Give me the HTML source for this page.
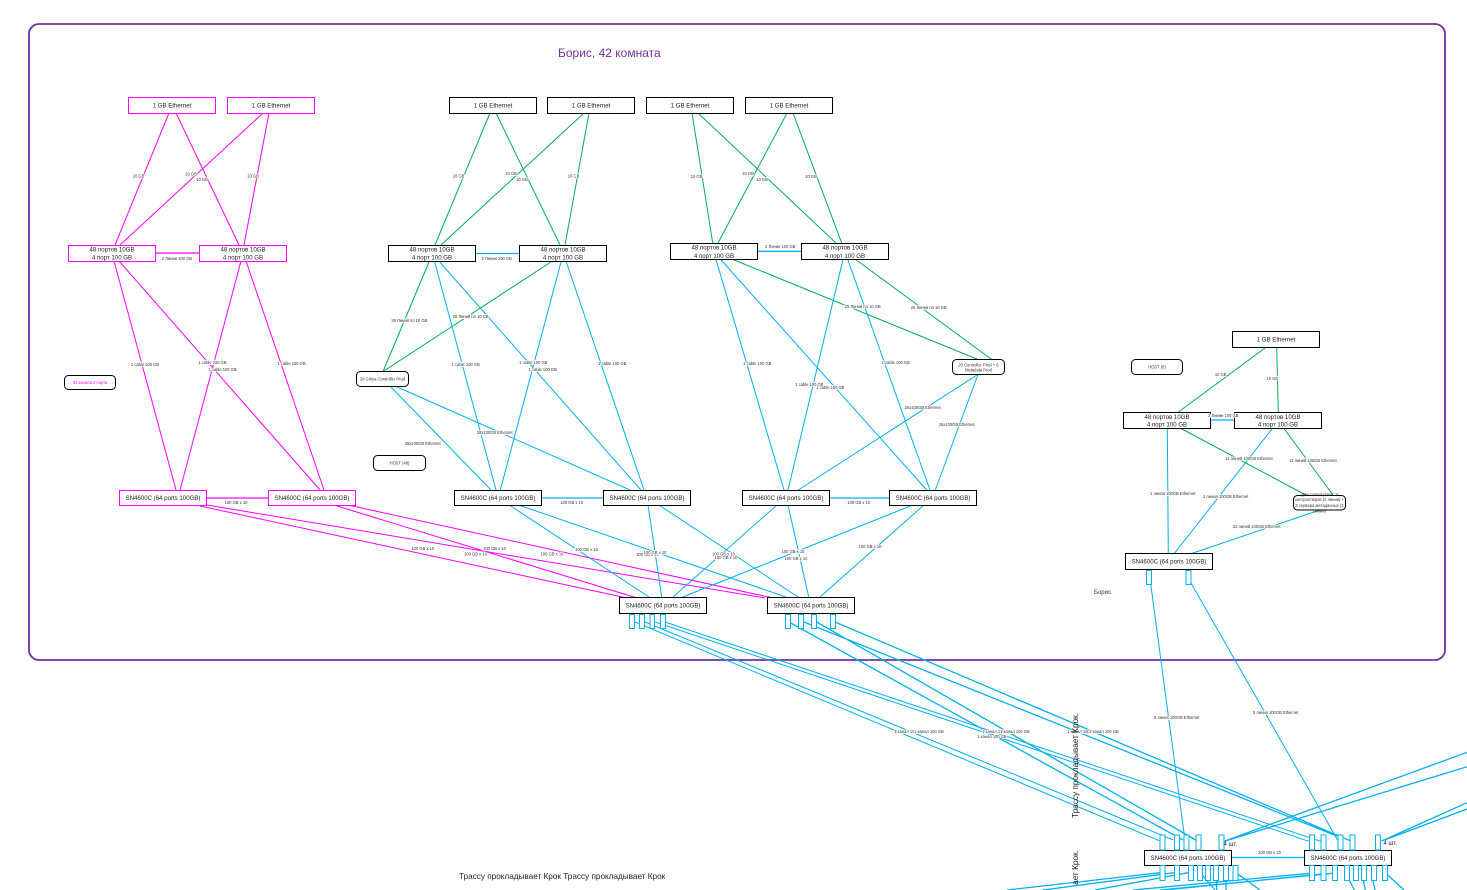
<!DOCTYPE html>
<html lang="ru">
<head>
<meta charset="utf-8">
<title>Борис, 42 комната</title>
<style>
html,body{margin:0;padding:0;background:#fff;width:1467px;height:890px;overflow:hidden}
svg{display:block;font-family:"Liberation Sans","Noto Sans CJK SC",sans-serif}
.ln{fill:none;stroke-width:1}
.lk{fill:none;stroke-width:1.3}
.m{stroke:#ff00ff}
.g{stroke:#00b050}
.c{stroke:#00b0f0}
.bm{fill:#fff;stroke:#ff00ff;stroke-width:1}
.bk{fill:#fff;stroke:#000;stroke-width:1}
.p{fill:#fff;stroke:#00b0f0;stroke-width:1}
.t{font-size:6.1px;fill:#222;text-anchor:middle}
.l{font-size:4.1px;fill:#333;text-anchor:middle;paint-order:stroke;stroke:#fff;stroke-width:1.6px}
.s{font-size:4.1px;fill:#333;text-anchor:middle}
</style>
</head>
<body>
<svg width="1467" height="890" viewBox="0 0 1467 890" xmlns="http://www.w3.org/2000/svg">
<rect x="29" y="24" width="1416" height="636" rx="10" ry="10" fill="#fff" stroke="#7030a0" stroke-width="1.8"/>
<text x="558" y="57" font-size="12" fill="#7030a0">Борис, 42 комната</text>

<!-- magenta connectors -->
<path class="ln m" d="M169 113L115 245M176 113L239 245M263 113L120 245M269 113L244 245M114 261L176 490M119 261L320 490M241 261L180 490M246 261L324 490M200 506L627 598M207 505L765 598M337 506L637 598M348 505L773 598"/>
<path class="lk m" d="M155 253H199M206 498H268"/>

<!-- green connectors -->
<path class="ln g" d="M490 113L435 245M496 113L560 245M584 113L441 245M589 113L565 245M429 262L383 371.500M551 262L383 371.500M692 113L712.700 243M698 113L836 243M787 113L718 243M793 113L841.700 243M733 259.500L978 359.500M855.700 259.500L991.700 359.500M1265.700 347.500L1177.700 412.500M1276.700 347.500L1278.300 412.500M1181 428.500L1306.700 495.500M1284 428.500L1333.300 495.500"/>

<!-- cyan connectors -->
<path class="ln c" d="M434.700 262L496 490M439.700 262L641 490M561 262L500.300 490M566.300 262L644 490M390 386L491 490M395 386L630 490M510 505.500L649 597M520 505.500L786 597M648 505L661.700 597M659 505L798 597M777 505L673 597M788 505L808.700 597M913 505L682.700 597M924 505L820 597M716 259.500L784 490M720.700 259.500L926.700 490M843 259.500L788 490M847.700 259.500L930 490M977.700 374.500L798.300 490M978 374.500L935.300 490M1167.300 428.500L1168.300 553.500M1272.300 428.500L1174.300 553.500M1320 510L1191.700 553.500M1150.700 584L1184.300 835M1191 583L1342.700 849M635 622L1159.300 840.700M645 622L1173.300 840M655 622L1310 841.700M665 622L1321.700 841.700"/>
<path class="lk c" d="M475 253.500H519M541 498H603M757 251.300H801M829 498H889M1210 420H1234M1231.500 857.500H1304.500"/>
<path class="lk c" d="M790.700 623L1183 840M816.700 622L1195.700 840M804 622L1336.700 836M835 622L1350 840.700M1223 841.700L1467 752.300M1223 841.700L1467 766.700M1381.700 841L1467 802.700M1381.700 841L1467 809M1160 872.700L1007 890M1174 872.700L1043 890M1188.300 872.700L1095 890M1310 873.300L1133 890M1321.700 874L1165 890M1332.700 873.300L1160 890M1203 876L1215 890M1216.700 880V890M1226 880V890M1238.300 874.300L1260 890M1349.300 880L1354.300 890M1363.300 880L1365.300 890M1372.700 880L1375 890M1387.700 875L1404 890"/>

<!-- connector labels -->
<g>
<text class="l" x="138.500" y="177.500">10 GB</text><text class="l" x="191" y="175.500">10 GB</text><text class="l" x="202" y="181">10 GB</text><text class="l" x="253" y="177.500">10 GB</text>
<text class="l" x="177" y="260">2 Линии 100 GB</text>
<text class="l" x="145" y="366">1 cable 100 GB</text><text class="l" x="212.500" y="364">1 cable 100 GB</text><text class="l" x="222.500" y="371">1 cable 100 GB</text><text class="l" x="291.500" y="365">1 cable 100 GB</text>
<text class="l" x="236" y="504">100 GB x 10</text>
<text class="l" x="422.700" y="550">100 GB x 10</text><text class="l" x="494.500" y="550">100 GB x 10</text><text class="l" x="475.500" y="555.500">100 GB x 10</text><text class="l" x="552" y="555.500">100 GB x 10</text><text class="l" x="586.500" y="551">100 GB x 10</text><text class="l" x="647.500" y="556">100 GB x 10</text><text class="l" x="655" y="554">100 GB x 10</text><text class="l" x="723.500" y="555.500">100 GB x 10</text><text class="l" x="726" y="559">100 GB x 10</text><text class="l" x="793" y="553">100 GB x 10</text><text class="l" x="796" y="560">100 GB x 10</text><text class="l" x="870" y="548">100 GB x 10</text>

<text class="l" x="458.500" y="177.500">10 GB</text><text class="l" x="511" y="175">10 GB</text><text class="l" x="522" y="181">10 GB</text><text class="l" x="573.500" y="177.500">10 GB</text>
<text class="l" x="496.700" y="260">2 Линии 100 GB</text>
<text class="l" x="409.300" y="322">28 Линий по 10 GB</text><text class="l" x="470.700" y="318">28 Линий по 10 GB</text>
<text class="l" x="465.700" y="366">1 cable 100 GB</text><text class="l" x="533.300" y="364">1 cable 100 GB</text><text class="l" x="542.700" y="371">1 cable 100 GB</text><text class="l" x="612.300" y="365">1 cable 100 GB</text>
<text class="l" x="494.700" y="434">28x100GB Ethernet</text><text class="l" x="422.700" y="445">28x100GB Ethernet</text>
<text class="l" x="571.700" y="504">100 GB x 10</text>

<text class="l" x="696.500" y="178">10 GB</text><text class="l" x="748" y="175">10 GB</text><text class="l" x="762" y="181">10 GB</text><text class="l" x="811" y="178">10 GB</text>
<text class="l" x="780.300" y="248">2 Линии 100 GB</text>
<text class="l" x="862.700" y="308">25 Линии по 10 GB</text><text class="l" x="928.700" y="309">25 Линии по 10 GB</text>
<text class="l" x="757.300" y="365">1 cable 100 GB</text><text class="l" x="809.300" y="386">1 cable 100 GB</text><text class="l" x="830.300" y="389">1 cable 100 GB</text><text class="l" x="895.700" y="364">1 cable 100 GB</text>
<text class="l" x="922.700" y="409">26x100GB Ethernet</text><text class="l" x="956.700" y="426">26x100GB Ethernet</text>
<text class="l" x="858.700" y="504">100 GB x 10</text>

<text class="l" x="1220.700" y="376">10 GB</text><text class="l" x="1272.300" y="380">10 GB</text>
<text class="l" x="1249" y="460">11 линий 100GB Ethernet</text><text class="l" x="1313" y="462">11 линий 100GB Ethernet</text>
<text class="l" x="1172.700" y="495">1 линия 100GB Ethernet</text><text class="l" x="1225.700" y="498">1 линия 100GB Ethernet</text>
<text class="l" x="1256.700" y="528">22 линий 100GB Ethernet</text>
<text class="l" x="1176.700" y="719">5 линия 100GB Ethernet</text><text class="l" x="1275.700" y="714">5 линия 100GB Ethernet</text>

<text class="l" x="909" y="733">1 канал 100 GB</text><text class="l" x="929" y="733">1 канал 100 GB</text>
<text class="l" x="997" y="733">1 канал 100 GB</text><text class="l" x="1015" y="733">1 канал 100 GB</text><text class="l" x="992" y="738">1 канал 100 GB</text>
<text class="l" x="1082" y="733">1 канал 100 GB</text><text class="l" x="1104" y="733">1 канал 100 GB</text>
<text class="s" x="1269.500" y="854">100 GB x 20</text>
</g>

<!-- magenta boxes -->
<g>
<rect class="bm" x="128.500" y="97.500" width="87" height="16"/><text class="t" x="172" y="107.700">1 GB Ethernet</text>
<rect class="bm" x="227.500" y="97.500" width="87" height="16"/><text class="t" x="271" y="107.700">1 GB Ethernet</text>
<rect class="bm" x="68.500" y="245.500" width="87" height="16"/><text class="t" x="112" y="251.500">48 портов 10GB</text><text class="t" x="112" y="259.300">4 порт 100 GB</text>
<rect class="bm" x="199.500" y="245.500" width="87" height="16"/><text class="t" x="243" y="251.500">48 портов 10GB</text><text class="t" x="243" y="259.300">4 порт 100 GB</text>
<rect class="bm" x="119.500" y="490.500" width="87" height="15"/><text class="t" x="163" y="500.200">SN4600C (64 ports 100GB)</text>
<rect class="bm" x="268.500" y="490.500" width="87" height="15"/><text class="t" x="312" y="500.200">SN4600C (64 ports 100GB)</text>
</g>

<!-- black boxes -->
<g>
<rect class="bk" x="449.500" y="97.500" width="87" height="16"/><text class="t" x="493" y="107.700">1 GB Ethernet</text>
<rect class="bk" x="547.500" y="97.500" width="87" height="16"/><text class="t" x="591" y="107.700">1 GB Ethernet</text>
<rect class="bk" x="646.500" y="97.500" width="87" height="16"/><text class="t" x="690" y="107.700">1 GB Ethernet</text>
<rect class="bk" x="745.500" y="97.500" width="87" height="16"/><text class="t" x="789" y="107.700">1 GB Ethernet</text>
<rect class="bk" x="388.500" y="245.500" width="87" height="16"/><text class="t" x="432" y="251.500">48 портов 10GB</text><text class="t" x="432" y="259.300">4 порт 100 GB</text>
<rect class="bk" x="519.500" y="245.500" width="87" height="16"/><text class="t" x="563" y="251.500">48 портов 10GB</text><text class="t" x="563" y="259.300">4 порт 100 GB</text>
<rect class="bk" x="670.500" y="243.500" width="87" height="16"/><text class="t" x="714" y="249.500">48 портов 10GB</text><text class="t" x="714" y="258">4 порт 100 GB</text>
<rect class="bk" x="801.500" y="243.500" width="87" height="16"/><text class="t" x="845" y="249.500">48 портов 10GB</text><text class="t" x="845" y="258">4 порт 100 GB</text>
<rect class="bk" x="454.500" y="490.500" width="87" height="15"/><text class="t" x="498" y="500.200">SN4600C (64 ports 100GB)</text>
<rect class="bk" x="603.500" y="490.500" width="87" height="15"/><text class="t" x="647" y="500.200">SN4600C (64 ports 100GB)</text>
<rect class="bk" x="742.500" y="490.500" width="87" height="15"/><text class="t" x="786" y="500.200">SN4600C (64 ports 100GB)</text>
<rect class="bk" x="889.500" y="490.500" width="87" height="15"/><text class="t" x="933" y="500.200">SN4600C (64 ports 100GB)</text>
<rect class="bk" x="619.500" y="597.500" width="87" height="16"/><text class="t" x="663" y="607.700">SN4600C (64 ports 100GB)</text>
<rect class="bk" x="767.500" y="597.500" width="87" height="16"/><text class="t" x="811" y="607.700">SN4600C (64 ports 100GB)</text>
<rect class="bk" x="1232.500" y="331.500" width="87" height="16"/><text class="t" x="1276" y="341.700">1 GB Ethernet</text>
<rect class="bk" x="1123.500" y="412.500" width="87" height="16"/><text class="t" x="1167" y="418.800">48 портов 10GB</text><text class="t" x="1167" y="426.500">4 порт 100 GB</text>
<rect class="bk" x="1234.500" y="412.500" width="87" height="16"/><text class="t" x="1278" y="418.800">48 портов 10GB</text><text class="t" x="1278" y="426.500">4 порт 100 GB</text>
<text class="l" x="1223.300" y="417">2 Линии 100 GB</text>
<rect class="bk" x="1125.500" y="553.500" width="87" height="16"/><text class="t" x="1169" y="563.700">SN4600C (64 ports 100GB)</text>
<rect class="bk" x="1144.500" y="850.500" width="87" height="15"/><text class="t" x="1188" y="860.200">SN4600C (64 ports 100GB)</text>
<rect class="bk" x="1304.500" y="850.500" width="87" height="15"/><text class="t" x="1348" y="860.200">SN4600C (64 ports 100GB)</text>
</g>

<!-- rounded boxes -->
<g>
<rect class="bk" x="64.500" y="375.500" width="51" height="14" rx="4"/><text class="s" x="90" y="384" style="fill:#ff00ff">32 канала 2 порта</text>
<rect class="bk" x="356.500" y="371.500" width="52" height="15" rx="4"/><text class="s" x="382.500" y="380.500">28 Gilrya Controller Prod</text>
<rect class="bk" x="373.500" y="455.500" width="52" height="15" rx="4"/><text class="s" x="399.500" y="464.500">HOST (48)</text>
<rect class="bk" x="952.500" y="359.500" width="52" height="15" rx="4"/><text class="s" x="978.500" y="366.500">20 Controller Prod + 6</text><text class="s" x="978.500" y="371.500">Metadata Prod</text>
<rect class="bk" x="1131.500" y="359.500" width="51" height="15" rx="4"/><text class="s" x="1157" y="368.500">HOST (8)</text>
<rect class="bk" x="1293.500" y="495.500" width="52" height="14.500" rx="4"/>
<text class="s" x="1319.500" y="496">Для control plane: 8</text><text class="s" x="1319.500" y="501">контроллеров (2 линии) +</text><text class="s" x="1319.500" y="507">3 сервера метаданных (2</text><text class="s" x="1319.500" y="512.500">линии)</text>
</g>

<!-- ports -->
<g>
<rect class="p" x="629.500" y="614.500" width="5" height="14"/><rect class="p" x="639.500" y="614.500" width="5" height="14"/><rect class="p" x="650" y="614.500" width="4.500" height="14"/><rect class="p" x="660.500" y="614.500" width="5" height="14"/>
<rect class="p" x="785.500" y="614.500" width="5" height="14"/><rect class="p" x="798.500" y="614.500" width="5" height="14"/><rect class="p" x="811.500" y="614.500" width="5" height="14"/><rect class="p" x="830.500" y="614.500" width="5" height="14"/>
<rect class="p" x="1146.500" y="570.500" width="5" height="14"/><rect class="p" x="1186" y="570.500" width="5" height="14"/>
<rect class="p" x="1160" y="835" width="5" height="15"/><rect class="p" x="1174.500" y="835" width="5" height="15"/><rect class="p" x="1184" y="835" width="5" height="15"/><rect class="p" x="1196" y="835" width="5" height="15"/><rect class="p" x="1219" y="835" width="5" height="15"/>
<rect class="p" x="1309.500" y="835" width="5" height="15"/><rect class="p" x="1321" y="835" width="5" height="15"/><rect class="p" x="1338" y="835" width="5" height="15"/><rect class="p" x="1350" y="835" width="5" height="15"/><rect class="p" x="1375.500" y="835" width="5" height="15"/>
<rect class="p" x="1160" y="865.500" width="5" height="15"/><rect class="p" x="1174.500" y="865.500" width="5" height="15"/><rect class="p" x="1188.500" y="865.500" width="5" height="15"/><rect class="p" x="1197.500" y="865.500" width="5" height="15"/><rect class="p" x="1205.500" y="865.500" width="5" height="15"/><rect class="p" x="1213.500" y="865.500" width="5" height="15"/><rect class="p" x="1223.500" y="865.500" width="5" height="15"/><rect class="p" x="1233" y="865.500" width="5" height="15"/>
<rect class="p" x="1309.500" y="865.500" width="5" height="15"/><rect class="p" x="1321" y="865.500" width="5" height="15"/><rect class="p" x="1332.500" y="865.500" width="5" height="15"/><rect class="p" x="1344.500" y="865.500" width="5" height="15"/><rect class="p" x="1353.500" y="865.500" width="5" height="15"/><rect class="p" x="1361.500" y="865.500" width="5" height="15"/><rect class="p" x="1371.500" y="865.500" width="5" height="15"/><rect class="p" x="1382.500" y="865.500" width="5" height="15"/>
</g>

<!-- free text -->
<text x="1094" y="594" font-size="6" fill="#333">Борис</text>
<text x="1223.500" y="846" font-size="6" fill="#222">4 шт.</text>
<text x="1383.500" y="845" font-size="6" fill="#222">4 шт.</text>
<text x="459" y="879" font-size="8.200" fill="#222">Трассу прокладывает Крок Трассу прокладывает Крок</text>
<text transform="translate(1078 818) rotate(-90)" font-size="8.250" fill="#222">Трассу прокладывает Крок.</text>
<text transform="translate(1078 850) rotate(-90)" font-size="8.250" fill="#222" text-anchor="end">ает Крок.</text>
</svg>
</body>
</html>
